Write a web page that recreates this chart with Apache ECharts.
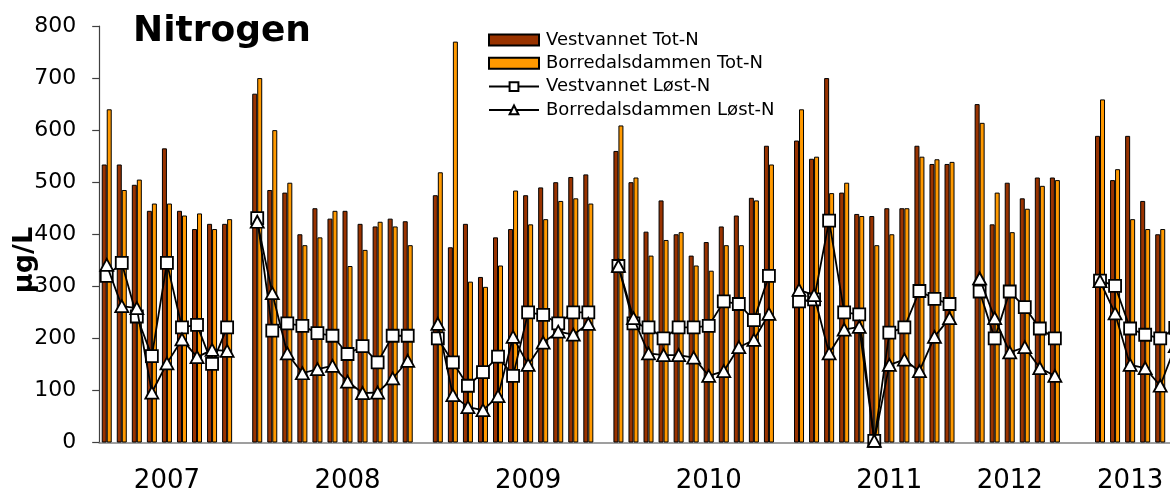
<!DOCTYPE html>
<html>
<head>
<meta charset="utf-8">
<script src="https://cdn.jsdelivr.net/npm/echarts@6/dist/echarts.min.js"></script>
<style>
html,body{margin:0;padding:0;background:#fff;}
#chart{width:1170px;height:491px;}
</style>
</head>
<body>
<div id="chart"></div>
<script>
// Monthly samples; null = no sample (gap between seasons)
const vestTot = [
  534, 534, 495, 445, 565, 445, 410, 420, 420, null,
  670, 485, 480, 400, 450, 430, 445, 420, 415, 430, 425, null,
  475, 375, 420, 318, 394, 410, 475, 490, 500, 510, 515, null,
  560, 500, 405, 465, 400, 359, 385, 415, 436, 470, 570, null,
  580, 545, 700, 480, 439, 435, 450, 450, 570, 535, 535, null,
  650, 419, 499, 469, 509, 509, null, null,
  589, 504, 589, 464, 400, 446
];
const borTot = [
  640, 485, 505, 459, 459, 436, 440, 410, 429, null,
  700, 600, 499, 379, 394, 445, 339, 370, 424, 415, 379, null,
  519, 770, 309, 299, 340, 484, 419, 429, 464, 469, 459, null,
  609, 509, 359, 389, 404, 340, 330, 379, 379, 465, 534, null,
  640, 549, 479, 499, 435, 379, 400, 450, 549, 544, 539, null,
  614, 480, 404, 449, 493, 504, null, null,
  659, 525, 429, 410, 410, null
];
const vestLost = [
  320, 345, 242, 166, 345, 221, 226, 151, 221, null,
  431, 215, 229, 224, 210, 205, 170, 185, 154, 205, 205, null,
  200, 154, 109, 135, 165, 128, 250, 245, 229, 250, 250, null,
  339, 229, 221, 200, 221, 221, 224, 271, 266, 235, 320, null,
  271, 275, 426, 250, 246, 3, 211, 221, 291, 276, 266, null,
  290, 200, 290, 260, 219, 200, null, null,
  311, 301, 219, 207, 200, 220
];
const borLost = [
  341, 262, 258, 96, 152, 198, 164, 178, 176, null,
  424, 287, 171, 133, 141, 147, 117, 95, 96, 123, 157, null,
  228, 91, 68, 62, 89, 203, 149, 192, 213, 207, 228, null,
  339, 239, 171, 168, 168, 163, 128, 137, 183, 197, 247, null,
  293, 283, 171, 217, 222, 3, 149, 159, 137, 203, 239, null,
  315, 239, 173, 183, 143, 128, null, null,
  310, 248, 149, 143, 109, 185
];
const yearLabels = ['2007', '2008', '2009', '2010', '2011', '2012', '2013'];
const yearLabelIndex = [4, 16, 28, 40, 52, 60, 68];
const seriesNames = ['Vestvannet Tot-N', 'Borredalsdammen Tot-N', 'Vestvannet Løst-N', 'Borredalsdammen Løst-N'];
const yTicks = [0, 100, 200, 300, 400, 500, 600, 700, 800];

const categories = vestTot.map((_, i) => String(i));
const FONT = 'DejaVu Sans, Verdana, sans-serif';
const slot = 15.05;

const chart = echarts.init(document.getElementById('chart'), null, {renderer: 'canvas'});
chart.setOption({
  animation: false,
  backgroundColor: '#ffffff',
  title: {
    text: 'Nitrogen', left: 128, top: 9,
    textStyle: {fontFamily: FONT, fontWeight: 'bold', fontSize: 36, color: '#000'}
  },
  legend: {
    orient: 'vertical', left: 483, top: 26, itemWidth: 50, itemHeight: 11, itemGap: 5.3,
    textStyle: {fontFamily: FONT, fontSize: 18, color: '#000', padding: [0, 0, 0, 2]},
    data: [
      {name: seriesNames[0], icon: 'rect', itemStyle: {borderWidth: 2, borderColor: '#000'}},
      {name: seriesNames[1], icon: 'rect', itemStyle: {borderWidth: 2, borderColor: '#000'}},
      {name: seriesNames[2]},
      {name: seriesNames[3]}
    ]
  },
  graphic: [{
    type: 'text', x: 25, y: 260, rotation: Math.PI / 2,
    style: {text: 'µg/L', font: 'bold 27px ' + FONT, fill: '#000', align: 'center', verticalAlign: 'middle'}
  }],
  grid: {
    left: 99.2, top: 26, width: categories.length * slot, height: 416.5,
    outerBoundsMode: 'none', containLabel: false
  },
  xAxis: {
    type: 'category', data: categories, boundaryGap: true,
    axisLine: {show: true, lineStyle: {color: '#808080', width: 1.5}},
    axisTick: {show: false},
    axisLabel: {
      interval: 0, margin: 26, fontFamily: FONT, fontSize: 26, color: '#000',
      formatter: (v, i) => { const k = yearLabelIndex.indexOf(i); return k >= 0 ? yearLabels[k] : ''; }
    },
    splitLine: {show: false}
  },
  yAxis: {
    type: 'value', min: yTicks[0], max: yTicks[yTicks.length - 1], interval: 100,
    axisLine: {show: true, lineStyle: {color: '#404040', width: 1.2}},
    axisTick: {show: true, length: 7, lineStyle: {color: '#404040', width: 1.2}},
    axisLabel: {margin: 23, fontFamily: FONT, fontSize: 22, color: '#000'},
    splitLine: {show: false}
  },
  series: [
    {
      name: seriesNames[0], type: 'bar', data: vestTot, barWidth: 5, barGap: '0%',
      itemStyle: {color: '#993300', borderColor: '#000', borderWidth: 1}
    },
    {
      name: seriesNames[1], type: 'bar', data: borTot, barWidth: 5, barGap: '0%',
      itemStyle: {color: '#FF9900', borderColor: '#000', borderWidth: 1}
    },
    {
      name: seriesNames[2], type: 'line', data: vestLost, symbol: 'rect', symbolSize: 12,
      showAllSymbol: true, connectNulls: false, z: 3,
      lineStyle: {color: '#000', width: 1.8},
      itemStyle: {color: '#fff', borderColor: '#000', borderWidth: 1.8}
    },
    {
      name: seriesNames[3], type: 'line', data: borLost, symbol: 'triangle', symbolSize: [13, 12],
      showAllSymbol: true, connectNulls: false, z: 4,
      lineStyle: {color: '#000', width: 1.8},
      itemStyle: {color: '#fff', borderColor: '#000', borderWidth: 1.8}
    }
  ]
});
</script>
</body>
</html>
